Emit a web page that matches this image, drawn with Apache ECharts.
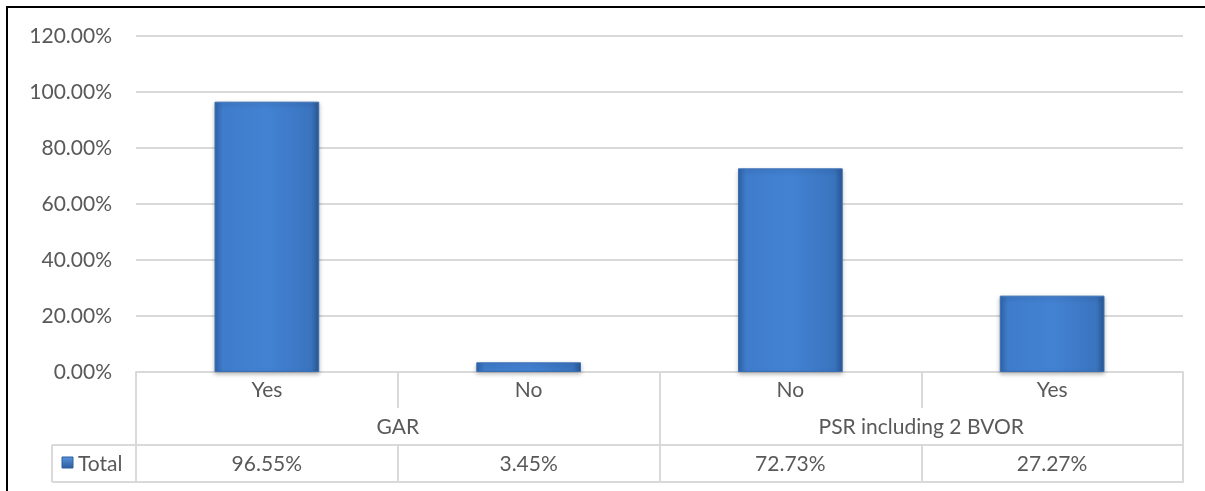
<!DOCTYPE html>
<html>
<head>
<meta charset="utf-8">
<script src="https://cdn.jsdelivr.net/npm/echarts@6/dist/echarts.min.js"></script>
<style>
html,body{margin:0;padding:0;background:#fff;}
#chart{width:1205px;height:491px;}
</style>
</head>
<body>
<div id="chart"></div>
<script>
var subCategories = ['Yes', 'No', 'No', 'Yes'];
var groups = ['GAR', 'PSR including 2 BVOR'];
var values = [0.9655, 0.0345, 0.7273, 0.2727];
var seriesName = 'Total';
var yTicks = { min: 0, max: 1.2, interval: 0.2 };

var FONT = 'Lato';
var TXT = '#595959';
var LINE = '#d9d9d9';
var FS = 21;

function pct(v) { return (v * 100).toFixed(2) + '%'; }

var barColor = {
  type: 'linear', x: 0, y: 0, x2: 1, y2: 0,
  colorStops: [
    { offset: 0, color: '#2f64a8' },
    { offset: 0.08, color: '#3f7ccb' },
    { offset: 0.5, color: '#4382d3' },
    { offset: 0.92, color: '#3a74bf' },
    { offset: 1, color: '#2a5893' }
  ]
};

var chart = echarts.init(document.getElementById('chart'));
var option = {
  animation: false,
  backgroundColor: '#fff',
  textStyle: { fontFamily: FONT },
  grid: { left: 136, right: 22, top: 36, bottom: 119, containLabel: false },
  yAxis: {
    type: 'value', min: yTicks.min, max: yTicks.max, interval: yTicks.interval,
    axisLine: { show: false }, axisTick: { show: false },
    splitLine: { lineStyle: { color: LINE, width: 2 } },
    axisLabel: { formatter: pct, color: TXT, fontSize: FS, fontFamily: FONT, margin: 24 }
  },
  xAxis: [
    {
      type: 'category', data: subCategories, position: 'bottom',
      axisLine: { show: true, lineStyle: { color: LINE, width: 2 } },
      axisTick: { show: true, length: 36, lineStyle: { color: LINE, width: 2 } },
      axisLabel: { color: TXT, fontSize: FS, fontFamily: FONT, margin: 8 }
    },
    {
      type: 'category', data: groups, position: 'bottom',
      axisLine: { show: false },
      axisTick: { show: true, length: 73, lineStyle: { color: LINE, width: 2 } },
      axisLabel: { color: TXT, fontSize: FS, fontFamily: FONT, margin: 45 }
    },
    {
      type: 'category', data: values.map(pct), position: 'bottom', offset: 73,
      axisLine: { show: true, lineStyle: { color: LINE, width: 2 } },
      axisTick: { show: true, length: 37, lineStyle: { color: LINE, width: 2 } },
      axisLabel: { color: TXT, fontSize: FS, fontFamily: FONT, margin: 9 }
    }
  ],
  series: [{
    name: seriesName, type: 'bar', xAxisIndex: 0, data: values, barWidth: '40%',
    itemStyle: {
      color: barColor, borderColor: '#3a6fb4', borderWidth: 1,
      shadowColor: 'rgba(0,0,0,0.25)', shadowBlur: 4, shadowOffsetY: 2
    }
  }],
  graphic: [
    { type: 'line', shape: { x1: 6, y1: 7, x2: 1205, y2: 7 }, style: { stroke: '#000', lineWidth: 2 } },
    { type: 'line', shape: { x1: 7, y1: 6, x2: 7, y2: 491 }, style: { stroke: '#000', lineWidth: 2 } },
    { type: 'line', shape: { x1: 52, y1: 445, x2: 136, y2: 445 }, style: { stroke: LINE, lineWidth: 2 } },
    { type: 'line', shape: { x1: 52, y1: 482, x2: 1184, y2: 482 }, style: { stroke: LINE, lineWidth: 2 } },
    { type: 'line', shape: { x1: 52, y1: 445, x2: 52, y2: 482 }, style: { stroke: LINE, lineWidth: 2 } },
    { type: 'rect', shape: { x: 62, y: 457, width: 11, height: 11 },
      style: { fill: { type: 'linear', x: 0, y: 0, x2: 0, y2: 1, colorStops: [{ offset: 0, color: '#5a96e0' }, { offset: 1, color: '#2c5a99' }] }, stroke: '#2f5f9f', lineWidth: 1 } },
    { type: 'text', left: 78, top: 454, style: { text: seriesName, fill: TXT, fontSize: FS, fontFamily: FONT } }
  ]
};
chart.setOption(option);
</script>
</body>
</html>
